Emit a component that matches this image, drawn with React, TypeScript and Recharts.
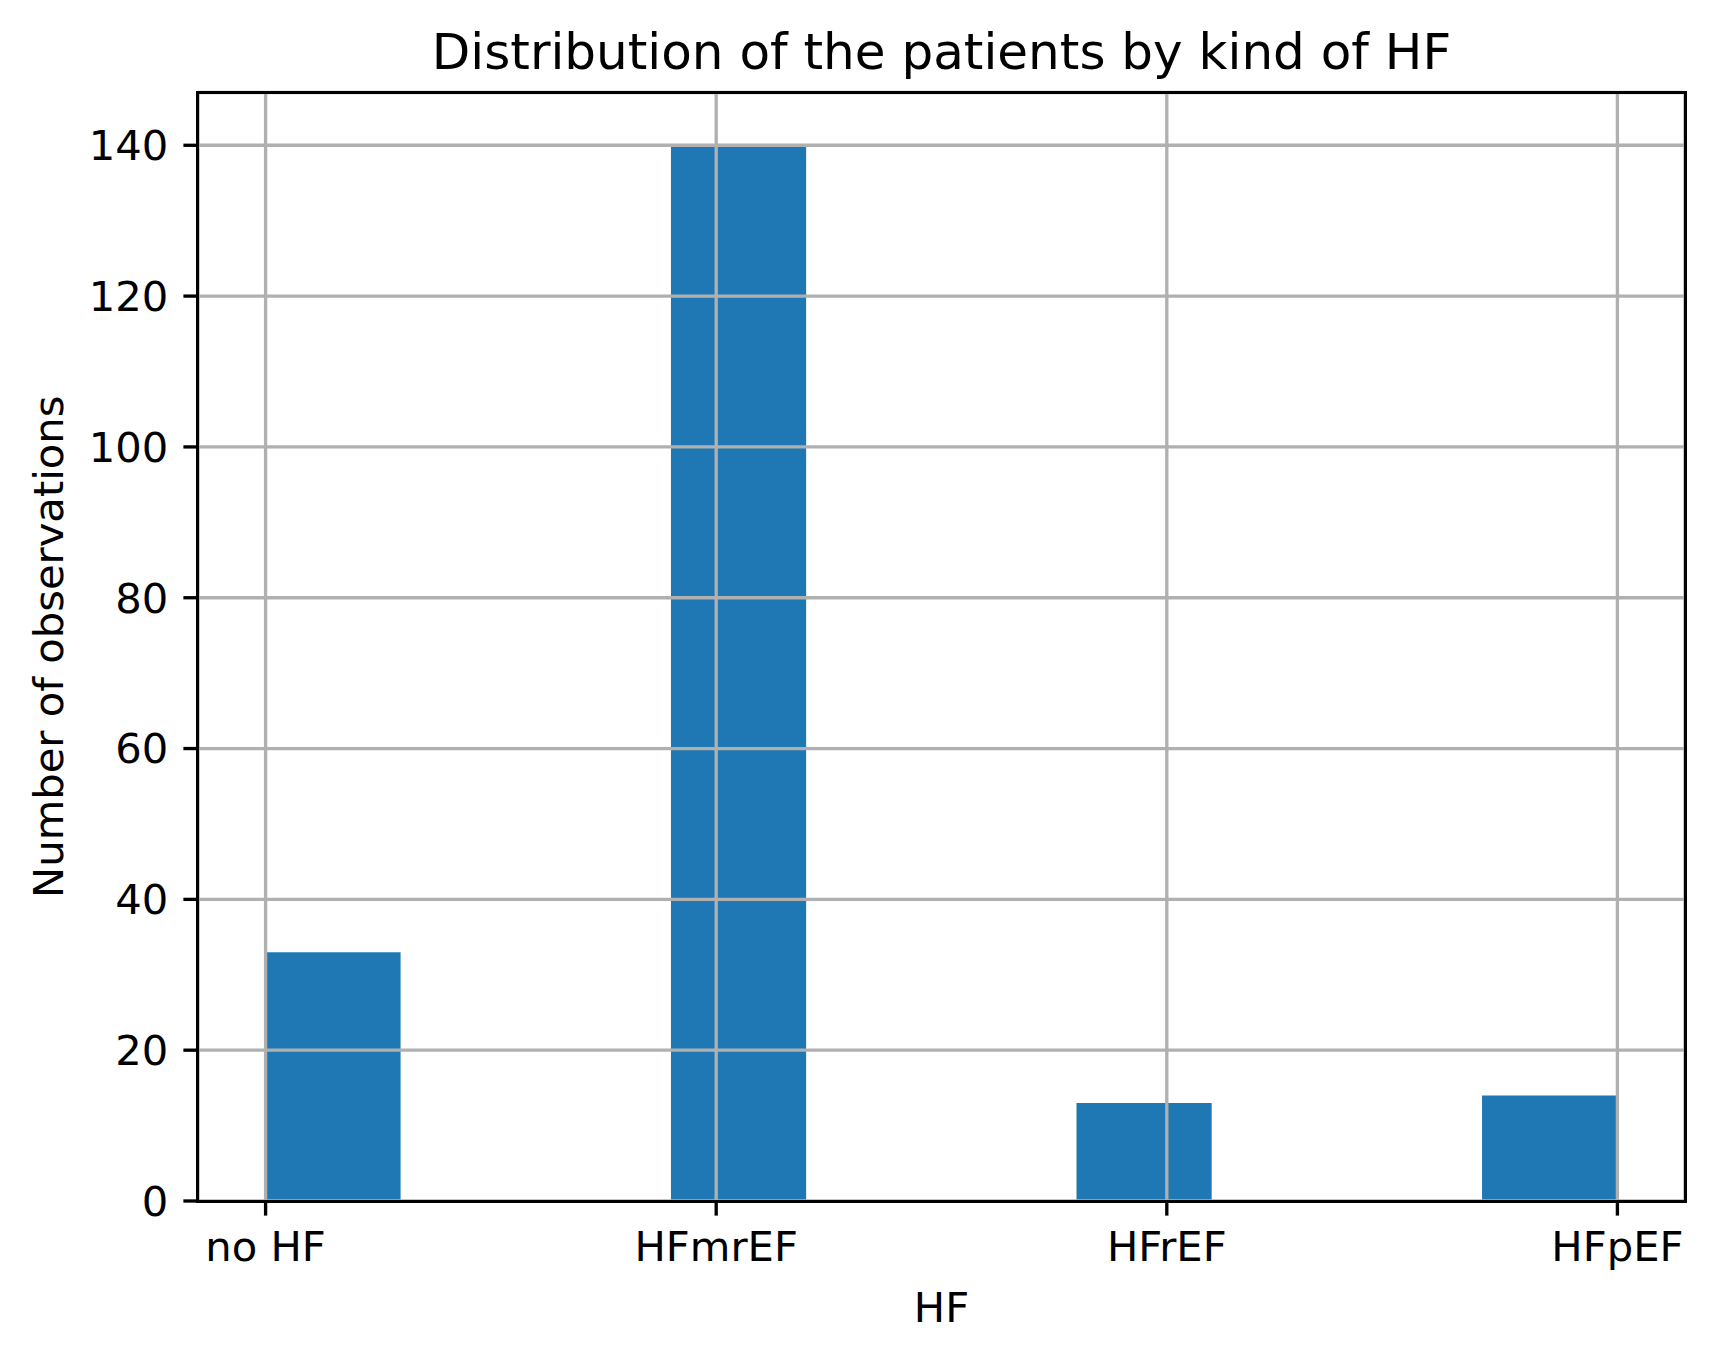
import React from 'react';
import { Bar, BarChart, CartesianGrid, XAxis, YAxis } from 'recharts';

// histogram of the HF kind (10 bins over 0..3, only the non-empty ones listed)
const categories = ['no HF', 'HFmrEF', 'HFrEF', 'HFpEF'];
const binCenters = [0.15, 1.05, 1.95, 2.85];
const binCounts = [33, 140, 13, 14];
const binWidth = 0.3;
const xTicks = [0, 1, 2, 3];
const yTicks = [0, 20, 40, 60, 80, 100, 120, 140];

const data = binCenters.map((center, i) => ({ center, count: binCounts[i] }));

const W = 1715;
const H = 1361;
const plot = { left: 198, right: 1685, top: 92.5, bottom: 1201 };
const xDomain: [number, number] = [-0.15, 3.15];
const lw = 3.33;
const font = "'DejaVu Sans', sans-serif";
const tickFont = { fontSize: 41.7, fill: '#000', fontFamily: font };

const barPx =
  ((plot.right - plot.left) / (xDomain[1] - xDomain[0])) * binWidth;
const midX = (plot.left + plot.right) / 2;
const midY = (plot.top + plot.bottom) / 2;

export default function App() {
  return (
    <div
      style={{
        position: 'absolute',
        left: 0,
        top: 0,
        width: W,
        height: H,
        background: '#fff',
        fontFamily: font,
      }}
    >
      <BarChart
        width={W}
        height={H}
        data={data}
        margin={{ top: plot.top, right: W - plot.right, bottom: 0, left: 0 }}
        barGap={0}
        barCategoryGap={0}
      >
        <XAxis
          dataKey='center'
          type='number'
          domain={xDomain}
          ticks={xTicks}
          allowDataOverflow
          interval={0}
          height={H - plot.bottom}
          tickFormatter={(v: number) => categories[v]}
          tick={tickFont}
          tickSize={14.6}
          tickMargin={16}
          tickLine={{ stroke: '#000', strokeWidth: lw }}
          axisLine={false}
        />
        <YAxis
          type='number'
          domain={[0, 147]}
          ticks={yTicks}
          allowDataOverflow
          interval={0}
          width={plot.left}
          tick={tickFont}
          tickSize={14.6}
          tickMargin={15}
          tickLine={{ stroke: '#000', strokeWidth: lw }}
          axisLine={false}
        />
        <Bar
          dataKey='count'
          fill='#1f77b4'
          barSize={barPx}
          isAnimationActive={false}
        />
        <CartesianGrid
          stroke='#b0b0b0'
          strokeWidth={lw}
          strokeDasharray=''
          zIndex={400}
        />
      </BarChart>
      <div
        style={{
          position: 'absolute',
          left: plot.left - lw / 2,
          top: plot.top - lw / 2,
          width: plot.right - plot.left + lw,
          height: plot.bottom - plot.top + lw,
          border: `${lw}px solid #000`,
          boxSizing: 'border-box',
          pointerEvents: 'none',
        }}
      />
      <svg
        width={W}
        height={H}
        style={{ position: 'absolute', left: 0, top: 0, pointerEvents: 'none' }}
      >
        <text
          x={midX}
          y={52}
          textAnchor='middle'
          dominantBaseline='central'
          fontSize={50}
          fontFamily={font}
          fill='#000'
        >
          Distribution of the patients by kind of HF
        </text>
        <text
          x={midX}
          y={1307}
          textAnchor='middle'
          dominantBaseline='central'
          fontSize={41.7}
          fontFamily={font}
          fill='#000'
        >
          HF
        </text>
        <text
          x={48}
          y={midY}
          textAnchor='middle'
          dominantBaseline='central'
          fontSize={41.7}
          fontFamily={font}
          fill='#000'
          transform={`rotate(-90 48 ${midY})`}
        >
          Number of observations
        </text>
      </svg>
    </div>
  );
}
